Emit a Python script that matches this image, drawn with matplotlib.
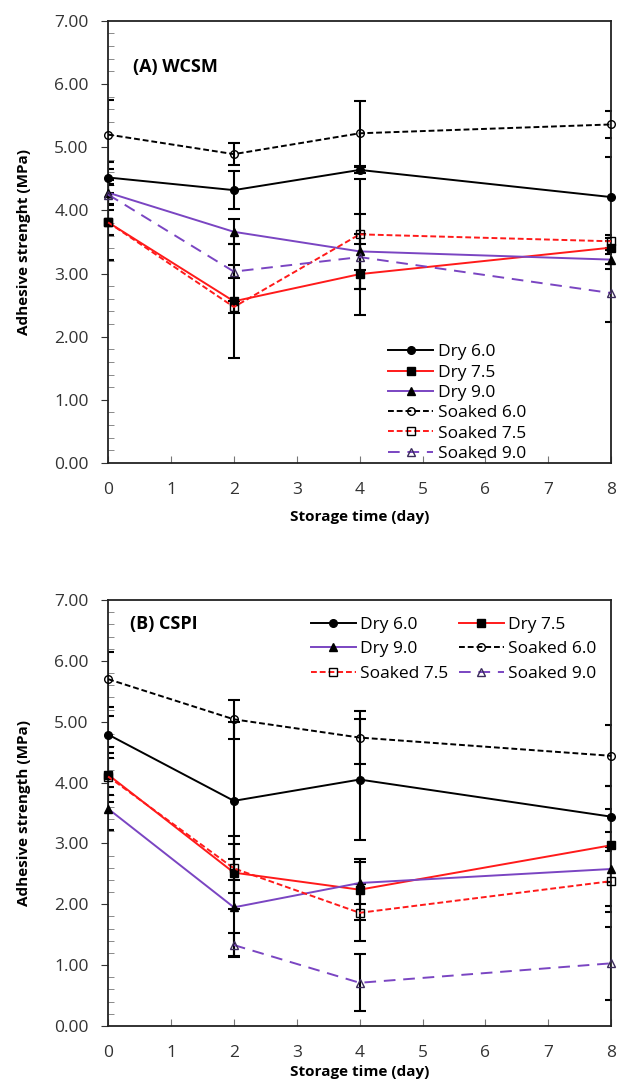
import numpy as np
import matplotlib
matplotlib.use("Agg")
import matplotlib.pyplot as plt
from matplotlib.ticker import MultipleLocator, FormatStrFormatter

plt.rcParams['font.family'] = ['Open Sans', 'DejaVu Sans']

days = [0, 2, 4, 8]
labels = ["Dry 6.0", "Dry 7.5", "Dry 9.0", "Soaked 6.0", "Soaked 7.5", "Soaked 9.0"]

# (A) WCSM
wcsm_dry60 = [4.52, 4.32, 4.64, 4.21]
wcsm_dry75 = [3.81, 2.56, 2.99, 3.41]
wcsm_dry90 = [4.28, 3.66, 3.35, 3.22]
wcsm_soak60 = [5.20, 4.89, 5.22, 5.36]
wcsm_soak75 = [3.81, 2.47, 3.62, 3.51]
wcsm_soak90 = [4.25, 3.03, 3.26, 2.69]
wcsm_err_dry60 = [0.25, 0.30, 0.05, 0.64]
wcsm_err_dry75 = [0.60, 0.90, 0.64, 0.10]
wcsm_err_dry90 = [0.20, 0.20, 0.60, 0.15]
wcsm_err_soak60 = [0.55, 0.17, 0.51, 0.21]
wcsm_err_soak75 = [0.20, 0.10, 0.87, 0.10]
wcsm_err_soak90 = [0.15, 0.10, 0.20, 0.46]

# (B) CSPI
cspi_dry60 = [4.79, 3.70, 4.05, 3.44]
cspi_dry75 = [4.13, 2.52, 2.24, 2.97]
cspi_dry90 = [3.57, 1.95, 2.35, 2.58]
cspi_soak60 = [5.70, 5.04, 4.74, 4.44]
cspi_soak75 = [4.10, 2.59, 1.86, 2.38]
cspi_soak90 = [np.nan, 1.33, 0.71, 1.03]
cspi_err_dry60 = [0.30, 1.30, 1.00, 0.50]
cspi_err_dry75 = [0.45, 0.60, 0.50, 0.60]
cspi_err_dry90 = [0.35, 0.80, 0.35, 0.60]
cspi_err_soak60 = [0.45, 0.32, 0.43, 0.50]
cspi_err_soak75 = [0.30, 0.40, 0.47, 0.50]
cspi_err_soak90 = [0.0, 0.20, 0.47, 0.60]

colors = ["black", "#ff1a1a", "#7a45c2", "black", "#ff1a1a", "#7a45c2"]
markers = ["o", "s", "^", "o", "s", "^"]
filled = [True, True, True, False, False, False]
styles = ["-", "-", "-", (0, (3, 1.5)), (0, (3, 1.5)), (0, (6, 4))]

fig = plt.figure(figsize=(6.36, 10.81), dpi=100)
ax1 = fig.add_axes([0.170, 0.5717, 0.791, 0.409])
ax2 = fig.add_axes([0.170, 0.0509, 0.791, 0.394])

def draw(ax, vals, errs, xlabelpad):
    handles = []
    for i, (v, e) in enumerate(zip(vals, errs)):
        ax.errorbar(days, v, yerr=e, fmt='none', ecolor='black', elinewidth=1.5,
                    capsize=4.5, capthick=1.5, zorder=2)
    for i, v in enumerate(vals):
        h, = ax.plot(days, v, color=colors[i], linestyle=styles[i], linewidth=1.4,
                     marker=markers[i], markersize=6 if markers[i] != 'o' else 5.5,
                     markerfacecolor='black' if filled[i] else 'none',
                     markeredgecolor='black' if i != 5 else '#3a2a5a',
                     markeredgewidth=1.0, zorder=3, clip_on=False)
        handles.append(h)
    ax.set_xlim(0, 8)
    ax.set_ylim(0, 7)
    ax.xaxis.set_major_locator(MultipleLocator(1))
    ax.yaxis.set_major_locator(MultipleLocator(1))
    ax.yaxis.set_minor_locator(MultipleLocator(0.2))
    ax.yaxis.set_major_formatter(FormatStrFormatter('%.2f'))
    ax.tick_params(axis='y', which='major', direction='out', length=5, labelsize=12.5,
                   colors='#333333', labelcolor='#333333', pad=9)
    ax.tick_params(axis='y', which='minor', direction='in', length=4, color='#777777')
    ax.tick_params(axis='x', which='major', direction='in', length=5, labelsize=12.5,
                   pad=13.5, color='#777777', labelcolor='#333333')
    for s in ax.spines.values():
        s.set_linewidth(1.3)
        s.set_color('#222222')
    ax.set_xlabel("Storage time (day)", fontsize=11, fontweight='bold', labelpad=xlabelpad)
    return handles

h1 = draw(ax1, [wcsm_dry60, wcsm_dry75, wcsm_dry90, wcsm_soak60, wcsm_soak75, wcsm_soak90],
          [wcsm_err_dry60, wcsm_err_dry75, wcsm_err_dry90, wcsm_err_soak60, wcsm_err_soak75, wcsm_err_soak90],
          9)
ax1.set_ylabel("Adhesive strenght (MPa)", fontsize=11, fontweight='bold', labelpad=17)
ax1.text(0.4, 6.27, "(A) WCSM", fontsize=13, fontweight='bold', va='center')
ax1.legend(h1, labels, loc='lower right', bbox_to_anchor=(0.855, -0.025), frameon=False,
           fontsize=12.5, handlelength=2.6, handletextpad=0.25, labelspacing=0.24,
           borderaxespad=0.3)

h2 = draw(ax2, [cspi_dry60, cspi_dry75, cspi_dry90, cspi_soak60, cspi_soak75, cspi_soak90],
          [cspi_err_dry60, cspi_err_dry75, cspi_err_dry90, cspi_err_soak60, cspi_err_soak75, cspi_err_soak90],
          3)
ax2.set_ylabel("Adhesive strength (MPa)", fontsize=11, fontweight='bold', labelpad=17)
ax2.text(0.35, 6.6, "(B) CSPI", fontsize=13, fontweight='bold', va='center')
order = [0, 2, 4, 1, 3, 5]
ax2.legend([h2[k] for k in order], [labels[k] for k in order], loc='upper right',
           bbox_to_anchor=(0.995, 0.99), ncol=2, frameon=False,
           fontsize=12.5, handlelength=2.6, handletextpad=0.25, labelspacing=0.5,
           columnspacing=0.6, borderaxespad=0.3)

fig.savefig("out.png", dpi=100)
